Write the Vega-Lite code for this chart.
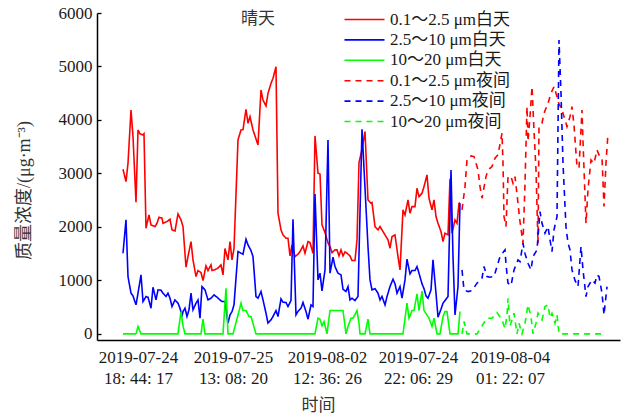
{
"$schema": "https://vega.github.io/schema/vega-lite/v6.json",
"width": 523, "height": 327,
"autosize": {"type": "none"},
"padding": {"left": 97, "top": 13, "right": 1, "bottom": 75},
"background": "white",
"config": {"view": {"stroke": null}, "font": "Liberation Serif"},
"datasets": {
"pts": [
{"s":"rd","t":26,"v":3078},{"s":"rd","t":29,"v":2847},{"s":"rd","t":31,"v":3190},{"s":"rd","t":34,"v":4187},{"s":"rd","t":36,"v":3688},{"s":"rd","t":39,"v":2461},{"s":"rd","t":41,"v":3813},{"s":"rd","t":43,"v":3738},{"s":"rd","t":46,"v":3720},{"s":"rd","t":47,"v":3740},{"s":"rd","t":49,"v":1975},{"s":"rd","t":52,"v":2224},{"s":"rd","t":54,"v":2037},{"s":"rd","t":58,"v":2006},{"s":"rd","t":60,"v":2068},{"s":"rd","t":62,"v":2180},{"s":"rd","t":65,"v":2162},{"s":"rd","t":66,"v":2068},{"s":"rd","t":70,"v":2100},{"s":"rd","t":73,"v":2143},{"s":"rd","t":75,"v":1944},{"s":"rd","t":78,"v":1925},{"s":"rd","t":81,"v":2243},{"s":"rd","t":84,"v":2131},{"s":"rd","t":86,"v":2006},{"s":"rd","t":89,"v":1246},{"s":"rd","t":91,"v":1445},{"s":"rd","t":94,"v":1726},{"s":"rd","t":96,"v":1383},{"s":"rd","t":99,"v":1072},{"s":"rd","t":101,"v":1184},{"s":"rd","t":104,"v":1146},{"s":"rd","t":106,"v":997},{"s":"rd","t":109,"v":1271},{"s":"rd","t":111,"v":1184},{"s":"rd","t":114,"v":1290},{"s":"rd","t":115,"v":1184},{"s":"rd","t":118,"v":1200},{"s":"rd","t":121,"v":1230},{"s":"rd","t":124,"v":1290},{"s":"rd","t":126,"v":1103},{"s":"rd","t":128,"v":1595},{"s":"rd","t":131,"v":1383},{"s":"rd","t":133,"v":1726},{"s":"rd","t":135,"v":1383},{"s":"rd","t":137,"v":1595},{"s":"rd","t":141,"v":3626},{"s":"rd","t":144,"v":3813},{"s":"rd","t":146,"v":3819},{"s":"rd","t":149,"v":4199},{"s":"rd","t":151,"v":3938},{"s":"rd","t":153,"v":4062},{"s":"rd","t":156,"v":3813},{"s":"rd","t":161,"v":3532},{"s":"rd","t":164,"v":4560},{"s":"rd","t":166,"v":4373},{"s":"rd","t":169,"v":4261},{"s":"rd","t":171,"v":4498},{"s":"rd","t":174,"v":4685},{"s":"rd","t":176,"v":4779},{"s":"rd","t":179,"v":4996},{"s":"rd","t":181,"v":2256},{"s":"rd","t":184,"v":1944},{"s":"rd","t":186,"v":1850},{"s":"rd","t":189,"v":1788},{"s":"rd","t":191,"v":1788},{"s":"rd","t":193,"v":1458},{"s":"rd","t":195,"v":1663},{"s":"rd","t":198,"v":1445},{"s":"rd","t":201,"v":1489},{"s":"rd","t":203,"v":1538},{"s":"rd","t":206,"v":1645},{"s":"rd","t":208,"v":1508},{"s":"rd","t":211,"v":1725},{"s":"rd","t":213,"v":1707},{"s":"rd","t":216,"v":1508},{"s":"rd","t":218,"v":3701},{"s":"rd","t":221,"v":3003},{"s":"rd","t":223,"v":2990},{"s":"rd","t":225,"v":2037},{"s":"rd","t":228,"v":1894},{"s":"rd","t":231,"v":1700},{"s":"rd","t":233,"v":1632},{"s":"rd","t":235,"v":1520},{"s":"rd","t":238,"v":1570},{"s":"rd","t":240,"v":1570},{"s":"rd","t":242,"v":1458},{"s":"rd","t":244,"v":1570},{"s":"rd","t":246,"v":1458},{"s":"rd","t":248,"v":1532},{"s":"rd","t":250,"v":1508},{"s":"rd","t":253,"v":1458},{"s":"rd","t":255,"v":1371},{"s":"rd","t":258,"v":1371},{"s":"rd","t":260,"v":1757},{"s":"rd","t":262,"v":3202},{"s":"rd","t":265,"v":3450},{"s":"rd","t":268,"v":3782},{"s":"rd","t":271,"v":2504},{"s":"rd","t":274,"v":2442},{"s":"rd","t":275,"v":2455},{"s":"rd","t":278,"v":2006},{"s":"rd","t":281,"v":1944},{"s":"rd","t":283,"v":2006},{"s":"rd","t":285,"v":1944},{"s":"rd","t":288,"v":1850},{"s":"rd","t":291,"v":1757},{"s":"rd","t":293,"v":1601},{"s":"rd","t":295,"v":1819},{"s":"rd","t":298,"v":1850},{"s":"rd","t":301,"v":1445},{"s":"rd","t":303,"v":1196},{"s":"rd","t":306,"v":2318},{"s":"rd","t":308,"v":2224},{"s":"rd","t":311,"v":2504},{"s":"rd","t":313,"v":2256},{"s":"rd","t":315,"v":2380},{"s":"rd","t":318,"v":2380},{"s":"rd","t":320,"v":2723},{"s":"rd","t":322,"v":2566},{"s":"rd","t":325,"v":2629},{"s":"rd","t":327,"v":2753},{"s":"rd","t":330,"v":2972},{"s":"rd","t":332,"v":2536},{"s":"rd","t":335,"v":2318},{"s":"rd","t":337,"v":2504},{"s":"rd","t":339,"v":2193},{"s":"rd","t":341,"v":2068},{"s":"rd","t":344,"v":1912},{"s":"rd","t":346,"v":1726},{"s":"rd","t":348,"v":1882},{"s":"rd","t":351,"v":1850},{"s":"rd","t":353,"v":2900},{"s":"rd","t":355,"v":1882},{"s":"rd","t":358,"v":2131},{"s":"rd","t":360,"v":2068},{"s":"rd","t":362,"v":2442},{"s":"rd","t":363,"v":2450},
{"s":"bd","t":26,"v":1508},{"s":"bd","t":29,"v":2131},{"s":"bd","t":31,"v":1072},{"s":"bd","t":34,"v":760},{"s":"bd","t":36,"v":710},{"s":"bd","t":39,"v":542},{"s":"bd","t":41,"v":760},{"s":"bd","t":44,"v":1103},{"s":"bd","t":46,"v":604},{"s":"bd","t":49,"v":697},{"s":"bd","t":51,"v":685},{"s":"bd","t":54,"v":480},{"s":"bd","t":56,"v":872},{"s":"bd","t":59,"v":635},{"s":"bd","t":61,"v":822},{"s":"bd","t":64,"v":816},{"s":"bd","t":66,"v":760},{"s":"bd","t":69,"v":700},{"s":"bd","t":71,"v":760},{"s":"bd","t":73,"v":667},{"s":"bd","t":75,"v":511},{"s":"bd","t":78,"v":635},{"s":"bd","t":81,"v":573},{"s":"bd","t":83,"v":480},{"s":"bd","t":85,"v":324},{"s":"bd","t":86,"v":417},{"s":"bd","t":88,"v":480},{"s":"bd","t":90,"v":324},{"s":"bd","t":92,"v":449},{"s":"bd","t":94,"v":760},{"s":"bd","t":96,"v":449},{"s":"bd","t":99,"v":573},{"s":"bd","t":101,"v":635},{"s":"bd","t":103,"v":293},{"s":"bd","t":105,"v":884},{"s":"bd","t":108,"v":822},{"s":"bd","t":111,"v":635},{"s":"bd","t":114,"v":667},{"s":"bd","t":117,"v":729},{"s":"bd","t":120,"v":685},{"s":"bd","t":123,"v":635},{"s":"bd","t":125,"v":604},{"s":"bd","t":128,"v":604},{"s":"bd","t":131,"v":200},{"s":"bd","t":133,"v":355},{"s":"bd","t":135,"v":417},{"s":"bd","t":137,"v":542},{"s":"bd","t":141,"v":1539},{"s":"bd","t":144,"v":1508},{"s":"bd","t":146,"v":1489},{"s":"bd","t":149,"v":1769},{"s":"bd","t":151,"v":1663},{"s":"bd","t":154,"v":1557},{"s":"bd","t":156,"v":1445},{"s":"bd","t":159,"v":697},{"s":"bd","t":161,"v":667},{"s":"bd","t":164,"v":791},{"s":"bd","t":166,"v":635},{"s":"bd","t":169,"v":386},{"s":"bd","t":171,"v":200},{"s":"bd","t":174,"v":262},{"s":"bd","t":176,"v":324},{"s":"bd","t":179,"v":436},{"s":"bd","t":181,"v":324},{"s":"bd","t":184,"v":654},{"s":"bd","t":186,"v":592},{"s":"bd","t":189,"v":586},{"s":"bd","t":191,"v":511},{"s":"bd","t":194,"v":623},{"s":"bd","t":196,"v":2143},{"s":"bd","t":199,"v":355},{"s":"bd","t":201,"v":420},{"s":"bd","t":204,"v":480},{"s":"bd","t":206,"v":586},{"s":"bd","t":209,"v":417},{"s":"bd","t":211,"v":274},{"s":"bd","t":214,"v":542},{"s":"bd","t":216,"v":511},{"s":"bd","t":218,"v":2617},{"s":"bd","t":221,"v":1009},{"s":"bd","t":223,"v":1134},{"s":"bd","t":225,"v":804},{"s":"bd","t":228,"v":1196},{"s":"bd","t":231,"v":3626},{"s":"bd","t":233,"v":1134},{"s":"bd","t":236,"v":1433},{"s":"bd","t":238,"v":1258},{"s":"bd","t":241,"v":1134},{"s":"bd","t":244,"v":1103},{"s":"bd","t":246,"v":835},{"s":"bd","t":249,"v":792},{"s":"bd","t":251,"v":884},{"s":"bd","t":253,"v":635},{"s":"bd","t":255,"v":667},{"s":"bd","t":258,"v":623},{"s":"bd","t":261,"v":700},{"s":"bd","t":265,"v":3825},{"s":"bd","t":271,"v":1632},{"s":"bd","t":273,"v":1009},{"s":"bd","t":275,"v":822},{"s":"bd","t":278,"v":845},{"s":"bd","t":281,"v":760},{"s":"bd","t":283,"v":635},{"s":"bd","t":285,"v":700},{"s":"bd","t":288,"v":542},{"s":"bd","t":290,"v":697},{"s":"bd","t":293,"v":884},{"s":"bd","t":296,"v":1022},{"s":"bd","t":298,"v":935},{"s":"bd","t":300,"v":760},{"s":"bd","t":303,"v":884},{"s":"bd","t":305,"v":667},{"s":"bd","t":308,"v":1009},{"s":"bd","t":310,"v":1396},{"s":"bd","t":313,"v":1121},{"s":"bd","t":315,"v":1184},{"s":"bd","t":318,"v":1184},{"s":"bd","t":320,"v":1258},{"s":"bd","t":322,"v":1134},{"s":"bd","t":325,"v":935},{"s":"bd","t":327,"v":845},{"s":"bd","t":329,"v":710},{"s":"bd","t":331,"v":667},{"s":"bd","t":334,"v":822},{"s":"bd","t":336,"v":1383},{"s":"bd","t":339,"v":760},{"s":"bd","t":341,"v":312},{"s":"bd","t":344,"v":461},{"s":"bd","t":346,"v":573},{"s":"bd","t":349,"v":648},{"s":"bd","t":351,"v":697},{"s":"bd","t":354,"v":3065},{"s":"bd","t":356,"v":1445},{"s":"bd","t":358,"v":355},{"s":"bd","t":361,"v":884},{"s":"bd","t":363,"v":2443},
{"s":"gd","t":26,"v":0},{"s":"gd","t":39,"v":0},{"s":"gd","t":41,"v":137},{"s":"gd","t":44,"v":0},{"s":"gd","t":81,"v":0},{"s":"gd","t":84,"v":417},{"s":"gd","t":86,"v":150},{"s":"gd","t":88,"v":0},{"s":"gd","t":104,"v":0},{"s":"gd","t":106,"v":274},{"s":"gd","t":108,"v":0},{"s":"gd","t":126,"v":0},{"s":"gd","t":129,"v":854},{"s":"gd","t":131,"v":0},{"s":"gd","t":136,"v":0},{"s":"gd","t":141,"v":350},{"s":"gd","t":144,"v":573},{"s":"gd","t":146,"v":436},{"s":"gd","t":149,"v":436},{"s":"gd","t":152,"v":324},{"s":"gd","t":154,"v":324},{"s":"gd","t":159,"v":0},{"s":"gd","t":218,"v":0},{"s":"gd","t":221,"v":293},{"s":"gd","t":223,"v":274},{"s":"gd","t":225,"v":150},{"s":"gd","t":227,"v":230},{"s":"gd","t":230,"v":0},{"s":"gd","t":233,"v":436},{"s":"gd","t":246,"v":436},{"s":"gd","t":249,"v":0},{"s":"gd","t":251,"v":137},{"s":"gd","t":254,"v":293},{"s":"gd","t":256,"v":293},{"s":"gd","t":260,"v":436},{"s":"gd","t":262,"v":200},{"s":"gd","t":263,"v":0},{"s":"gd","t":268,"v":0},{"s":"gd","t":271,"v":274},{"s":"gd","t":273,"v":0},{"s":"gd","t":306,"v":0},{"s":"gd","t":310,"v":573},{"s":"gd","t":312,"v":293},{"s":"gd","t":315,"v":436},{"s":"gd","t":317,"v":436},{"s":"gd","t":320,"v":748},{"s":"gd","t":322,"v":436},{"s":"gd","t":325,"v":798},{"s":"gd","t":327,"v":436},{"s":"gd","t":329,"v":380},{"s":"gd","t":332,"v":293},{"s":"gd","t":335,"v":137},{"s":"gd","t":337,"v":293},{"s":"gd","t":340,"v":0},{"s":"gd","t":343,"v":0},{"s":"gd","t":346,"v":324},{"s":"gd","t":348,"v":417},{"s":"gd","t":350,"v":417},{"s":"gd","t":353,"v":0},{"s":"gd","t":361,"v":0},{"s":"gd","t":363,"v":417},
{"s":"rn","t":365,"v":2318},{"s":"rn","t":368,"v":2753},{"s":"rn","t":370,"v":3252},{"s":"rn","t":374,"v":3327},{"s":"rn","t":377,"v":3315},{"s":"rn","t":381,"v":3065},{"s":"rn","t":383,"v":2753},{"s":"rn","t":385,"v":2536},{"s":"rn","t":389,"v":2940},{"s":"rn","t":391,"v":3065},{"s":"rn","t":395,"v":3128},{"s":"rn","t":398,"v":3284},{"s":"rn","t":401,"v":3350},{"s":"rn","t":405,"v":3751},{"s":"rn","t":406,"v":3200},{"s":"rn","t":407,"v":2193},{"s":"rn","t":409,"v":2006},{"s":"rn","t":411,"v":2940},{"s":"rn","t":414,"v":2940},{"s":"rn","t":416,"v":2816},{"s":"rn","t":418,"v":2940},{"s":"rn","t":421,"v":2442},{"s":"rn","t":423,"v":2100},{"s":"rn","t":426,"v":1695},{"s":"rn","t":428,"v":2800},{"s":"rn","t":430,"v":4249},{"s":"rn","t":431,"v":3600},{"s":"rn","t":433,"v":4062},{"s":"rn","t":435,"v":4623},{"s":"rn","t":437,"v":3800},{"s":"rn","t":439,"v":3065},{"s":"rn","t":441,"v":1695},{"s":"rn","t":442,"v":3875},{"s":"rn","t":445,"v":3938},{"s":"rn","t":447,"v":4125},{"s":"rn","t":451,"v":4312},{"s":"rn","t":454,"v":4498},{"s":"rn","t":457,"v":4623},{"s":"rn","t":459,"v":4500},{"s":"rn","t":462,"v":4300},{"s":"rn","t":465,"v":4187},{"s":"rn","t":470,"v":3875},{"s":"rn","t":473,"v":4062},{"s":"rn","t":475,"v":4249},{"s":"rn","t":477,"v":3900},{"s":"rn","t":480,"v":3128},{"s":"rn","t":482,"v":3100},{"s":"rn","t":485,"v":4187},{"s":"rn","t":486,"v":3600},{"s":"rn","t":489,"v":2068},{"s":"rn","t":491,"v":2700},{"s":"rn","t":494,"v":3252},{"s":"rn","t":497,"v":3190},{"s":"rn","t":500,"v":3439},{"s":"rn","t":502,"v":3346},{"s":"rn","t":505,"v":3300},{"s":"rn","t":507,"v":2380},{"s":"rn","t":509,"v":3200},{"s":"rn","t":511,"v":3751},
{"s":"bn","t":365,"v":1196},{"s":"bn","t":367,"v":822},{"s":"bn","t":371,"v":791},{"s":"bn","t":375,"v":810},{"s":"bn","t":380,"v":948},{"s":"bn","t":385,"v":1041},{"s":"bn","t":387,"v":1258},{"s":"bn","t":390,"v":1072},{"s":"bn","t":393,"v":1060},{"s":"bn","t":397,"v":1072},{"s":"bn","t":400,"v":1258},{"s":"bn","t":403,"v":1445},{"s":"bn","t":408,"v":1570},{"s":"bn","t":409,"v":1300},{"s":"bn","t":411,"v":948},{"s":"bn","t":414,"v":900},{"s":"bn","t":417,"v":1196},{"s":"bn","t":421,"v":1383},{"s":"bn","t":423,"v":1350},{"s":"bn","t":426,"v":1695},{"s":"bn","t":428,"v":1500},{"s":"bn","t":431,"v":1321},{"s":"bn","t":434,"v":1196},{"s":"bn","t":436,"v":1445},{"s":"bn","t":440,"v":1570},{"s":"bn","t":443,"v":2286},{"s":"bn","t":445,"v":2068},{"s":"bn","t":448,"v":1882},{"s":"bn","t":451,"v":2006},{"s":"bn","t":453,"v":1757},{"s":"bn","t":455,"v":1539},{"s":"bn","t":457,"v":1944},{"s":"bn","t":460,"v":2193},{"s":"bn","t":462,"v":5495},{"s":"bn","t":464,"v":4500},{"s":"bn","t":466,"v":3190},{"s":"bn","t":469,"v":2000},{"s":"bn","t":471,"v":1700},{"s":"bn","t":473,"v":1570},{"s":"bn","t":475,"v":1196},{"s":"bn","t":478,"v":1000},{"s":"bn","t":481,"v":884},{"s":"bn","t":484,"v":1632},{"s":"bn","t":486,"v":1200},{"s":"bn","t":489,"v":697},{"s":"bn","t":491,"v":884},{"s":"bn","t":495,"v":1009},{"s":"bn","t":498,"v":950},{"s":"bn","t":500,"v":1100},{"s":"bn","t":502,"v":1072},{"s":"bn","t":505,"v":760},{"s":"bn","t":507,"v":355},{"s":"bn","t":510,"v":884},
{"s":"gn","t":365,"v":0},{"s":"gn","t":367,"v":230},{"s":"gn","t":370,"v":0},{"s":"gn","t":380,"v":0},{"s":"gn","t":385,"v":150},{"s":"gn","t":390,"v":293},{"s":"gn","t":395,"v":293},{"s":"gn","t":400,"v":399},{"s":"gn","t":405,"v":262},{"s":"gn","t":408,"v":100},{"s":"gn","t":410,"v":355},{"s":"gn","t":411,"v":667},{"s":"gn","t":413,"v":150},{"s":"gn","t":417,"v":386},{"s":"gn","t":420,"v":0},{"s":"gn","t":422,"v":200},{"s":"gn","t":425,"v":0},{"s":"gn","t":428,"v":200},{"s":"gn","t":431,"v":542},{"s":"gn","t":434,"v":324},{"s":"gn","t":436,"v":0},{"s":"gn","t":439,"v":200},{"s":"gn","t":441,"v":386},{"s":"gn","t":445,"v":262},{"s":"gn","t":448,"v":511},{"s":"gn","t":451,"v":542},{"s":"gn","t":453,"v":300},{"s":"gn","t":455,"v":386},{"s":"gn","t":458,"v":200},{"s":"gn","t":460,"v":355},{"s":"gn","t":462,"v":0},{"s":"gn","t":505,"v":0}
]},
"data": {"name": "pts"},
"mark": {"type": "line", "strokeWidth": 1.6},
"encoding": {
"x": {"field": "t", "type": "quantitative",
 "scale": {"domain": [0, 523], "nice": false, "zero": false},
 "axis": {"values": [41, 136, 230, 321, 413],
  "labelExpr": "datum.value==41?['2019-07-24','18: 44: 17']:datum.value==136?['2019-07-25','13: 08: 20']:datum.value==230?['2019-08-02','12: 36: 26']:datum.value==321?['2019-07-24','22: 06: 29']:['2019-08-04','01: 22: 07']",
  "title": "时间", "grid": false, "ticks": false, "domainColor": "#000", "domainWidth": 1.5,
  "labelFont": "Liberation Serif", "labelFontSize": 17, "labelColor": "#1a1a1a", "labelPadding": 9, "labelLineHeight": 21, "labelBaseline": "top",
  "titleFont": "Noto Sans CJK SC", "titleFontSize": 17, "titleFontWeight": "normal", "titleColor": "#333",
  "titleX": 221, "titleY": 57, "titleBaseline": "top"}},
"y": {"field": "v", "type": "quantitative",
 "scale": {"domain": [-115, 6000], "nice": false, "zero": false},
 "axis": {"values": [0, 1000, 2000, 3000, 4000, 5000, 6000], "format": "d", "grid": false,
  "tickSize": -4, "tickColor": "#000", "tickWidth": 1.3, "domainColor": "#000", "domainWidth": 1.5,
  "labelFont": "Liberation Serif", "labelFontSize": 17, "labelColor": "#1a1a1a", "labelPadding": 9,
  "title": "质量浓度/(μg·m⁻³)", "titleFont": "Liberation Serif, Noto Sans CJK SC", "titleFontSize": 18, "titleFontWeight": "normal", "titleColor": "#333",
  "titleX": -73, "titleY": 177, "titleAngle": 270, "titleBaseline": "middle", "titleAlign": "center"}},
"color": {"field": "s", "type": "nominal",
 "scale": {"domain": ["rd", "bd", "gd", "rn", "bn", "gn"], "range": ["#ff0000", "#0000ff", "#00ff00", "#ff0000", "#0000ff", "#00ff00"]},
 "legend": {"orient": "none", "legendX": 144, "legendY": -2, "title": "晴天", "titleOrient": "left", "titlePadding": 81, "titleAnchor": "start",
  "titleFont": "Noto Sans CJK SC", "titleFontSize": 17, "titleFontWeight": "normal", "titleColor": "#333", "titleBaseline": "top",
  "labelFont": "Liberation Serif, Noto Sans CJK SC", "labelFontSize": 17, "labelColor": "#1a1a1a",
  "symbolType": "M-4,0H4", "symbolSize": 100, "symbolStrokeWidth": 1.6, "rowPadding": 2.4, "labelOffset": 17, "padding": 0,
  "labelExpr": "datum.label=='rd'?'0.1～2.5 μm白天':datum.label=='bd'?'2.5～10 μm白天':datum.label=='gd'?'10～20 μm白天':datum.label=='rn'?'0.1～2.5 μm夜间':datum.label=='bn'?'2.5～10 μm夜间':'10～20 μm夜间'"}},
"strokeDash": {"field": "s", "type": "nominal",
 "scale": {"domain": ["rd", "bd", "gd", "rn", "bn", "gn"], "range": [[1, 0], [1, 0], [1, 0], [6, 5], [6, 5], [6, 5]]},
 "legend": {"orient": "none", "legendX": 144, "legendY": -2, "title": "晴天", "titleOrient": "left", "titlePadding": 81, "titleAnchor": "start",
  "titleFont": "Noto Sans CJK SC", "titleFontSize": 17, "titleFontWeight": "normal", "titleColor": "#333", "titleBaseline": "top",
  "labelFont": "Liberation Serif, Noto Sans CJK SC", "labelFontSize": 17, "labelColor": "#1a1a1a",
  "symbolType": "M-4,0H4", "symbolSize": 100, "symbolStrokeWidth": 1.6, "rowPadding": 2.4, "labelOffset": 17, "padding": 0,
  "labelExpr": "datum.label=='rd'?'0.1～2.5 μm白天':datum.label=='bd'?'2.5～10 μm白天':datum.label=='gd'?'10～20 μm白天':datum.label=='rn'?'0.1～2.5 μm夜间':datum.label=='bn'?'2.5～10 μm夜间':'10～20 μm夜间'"}}
}
}
